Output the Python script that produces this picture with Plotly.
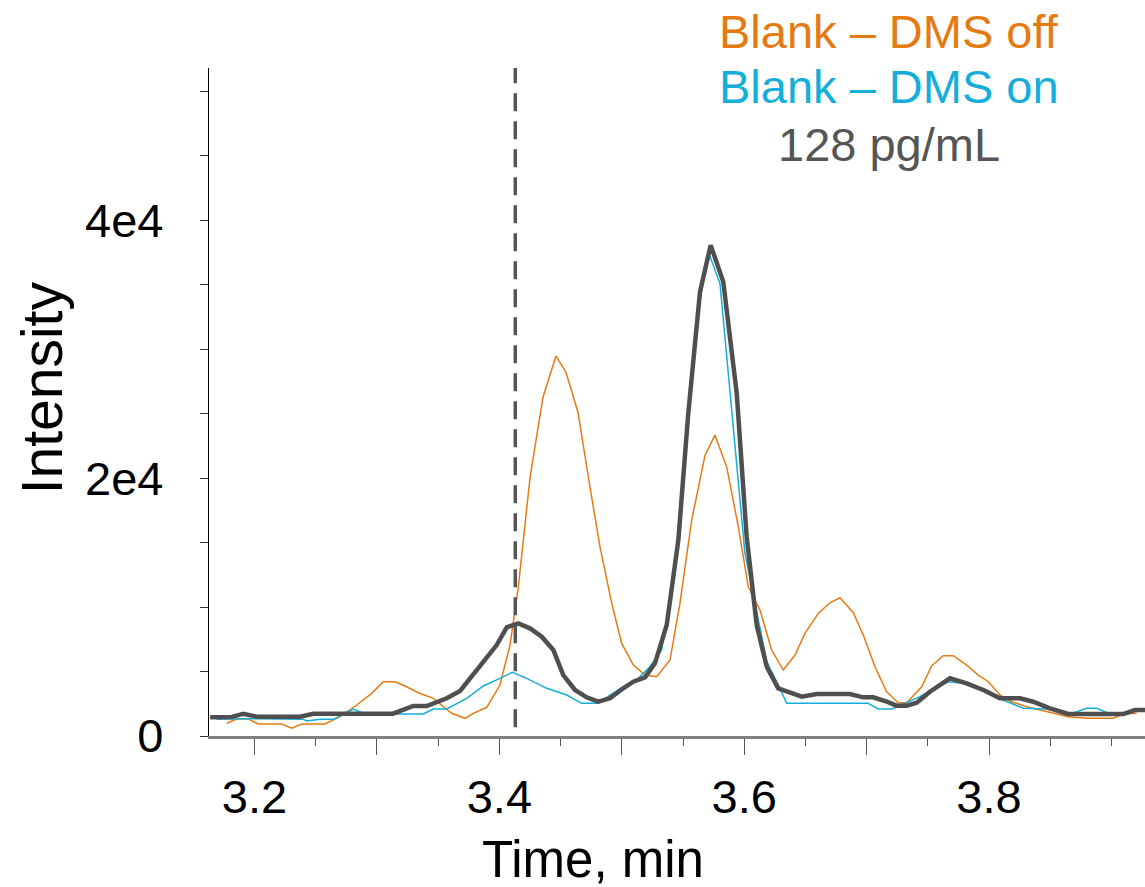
import plotly.graph_objects as go

# ---- data ----
t_128 = [3.1637, 3.1814, 3.1909, 3.2018, 3.2372, 3.2480, 3.3131, 3.3297, 3.3407, 3.3570,
         3.3679, 3.3787, 3.3897, 3.3978, 3.4060, 3.4155, 3.4250, 3.4346, 3.4441, 3.4522,
         3.4618, 3.4713, 3.4808, 3.4904, 3.5012, 3.5094, 3.5190, 3.5271, 3.5367, 3.5462,
         3.5543, 3.5639, 3.5726, 3.5829, 3.5939, 3.6020, 3.6102, 3.6184, 3.6278, 3.6470,
         3.6592, 3.6864, 3.6973, 3.7054, 3.7164, 3.7245, 3.7327, 3.7409, 3.7517, 3.7681,
         3.7817, 3.7953, 3.8089, 3.8253, 3.8361, 3.8497, 3.8647, 3.9096, 3.9192, 3.9274]
i_128 = [1450, 1473, 1729, 1496, 1496, 1729, 1729, 2326, 2326, 2923,
         3488, 4729, 6023, 7054, 8426, 8737, 8349, 7698, 6667, 4729,
         3566, 3000, 2659, 2922, 3698, 4209, 4550, 5636, 8605, 15194,
         25016, 34443, 38062, 35218, 26567, 15450, 8605, 5372, 3698, 3047,
         3256, 3256, 3000, 3000, 2659, 2349, 2349, 2581, 3434, 4473,
         4085, 3566, 2922, 2922, 2659, 2147, 1705, 1705, 2016, 2016]

t_on = [3.1691, 3.1936, 3.2399, 3.2426, 3.2535, 3.2644, 3.2807, 3.2903, 3.3134, 3.3379,
        3.3460, 3.3570, 3.3733, 3.3869, 3.4005, 3.4106, 3.4223, 3.4387, 3.4550, 3.4673,
        3.4808, 3.4904, 3.5012, 3.5135, 3.5230, 3.5326, 3.5408, 3.5489, 3.5598, 3.5707,
        3.5802, 3.5911, 3.6006, 3.6102, 3.6184, 3.6278, 3.6347, 3.7013, 3.7095, 3.7205,
        3.7327, 3.7436, 3.7544, 3.7667, 3.7844, 3.7981, 3.8116, 3.8279, 3.8470, 3.8661,
        3.8797, 3.8879, 3.8988, 3.9137]
i_on = [1294, 1341, 1294, 1163, 1294, 1294, 2093, 1705, 1705, 1705,
        2093, 2093, 2922, 3876, 4473, 4938, 4473, 3698, 3178, 2535,
        2535, 3178, 3822, 4473, 5372, 6667, 11574, 17519, 31473, 37543,
        35093, 23977, 14163, 9636, 5760, 3953, 2535, 2535, 2093, 2093,
        2581, 3047, 3698, 4209, 4031, 3566, 2791, 2147, 2093, 1682,
        2147, 2147, 1705, 1705]

t_off = [3.1773, 3.1855, 3.1949, 3.2031, 3.2222, 3.2304, 3.2386, 3.2576, 3.2698, 3.2835,
         3.2957, 3.3052, 3.3148, 3.3243, 3.3338, 3.3460, 3.3611, 3.3719, 3.3787, 3.3897,
         3.4005, 3.4087, 3.4155, 3.4250, 3.4356, 3.4462, 3.4544, 3.4642, 3.4740, 3.4822,
         3.4918, 3.4999, 3.5094, 3.5190, 3.5285, 3.5394, 3.5475, 3.5571, 3.5680, 3.5761,
         3.5857, 3.5952, 3.6033, 3.6129, 3.6224, 3.6319, 3.6415, 3.6496, 3.6605, 3.6700,
         3.6782, 3.6891, 3.6973, 3.7068, 3.7164, 3.7259, 3.7327, 3.7450, 3.7531, 3.7626,
         3.7708, 3.7817, 3.7912, 3.7994, 3.8089, 3.8185, 3.8307, 3.8471, 3.8647, 3.8797,
         3.9015, 3.9096, 3.9206]
i_off = [984, 1318, 1318, 930, 930, 597, 930, 930, 1496, 2403,
         3309, 4209, 4209, 3822, 3356, 2922, 1760, 1372, 1760, 2225,
         3953, 7054, 11574, 20000, 26273, 29450, 28210, 25110, 19322, 14672,
         10284, 7184, 5503, 4728, 4596, 5890, 10284, 16740, 21778, 23328,
         20871, 16221, 11571, 9765, 6665, 5115, 6278, 7959, 9509, 10331,
         10718, 9556, 7828, 5371, 3433, 2581, 2581, 3821, 5425, 6223,
         6223, 5503, 4728, 4209, 3178, 2659, 2271, 1883, 1496, 1372,
         1372, 1705, 1760]

marker_time = 3.413

x_major = [3.2, 3.3, 3.4, 3.5, 3.6, 3.7, 3.8]
x_major_text = ["3.2", "", "3.4", "", "3.6", "", "3.8"]
y_ticks = [0, 5000, 10000, 15000, 20000, 25000, 30000, 35000, 40000, 45000, 50000]
y_text = ["0", "", "", "", "2e4", "", "", "", "4e4", "", ""]

C_OFF = "#E67A12"
C_ON = "#15AEDB"
C_128 = "#4F4F4F"
FONT = "Liberation Sans, Arial, sans-serif"

fig = go.Figure()
fig.add_trace(go.Scatter(x=t_off, y=i_off, mode="lines", name="Blank – DMS off",
                         line=dict(color=C_OFF, width=1.5)))
fig.add_trace(go.Scatter(x=t_on, y=i_on, mode="lines", name="Blank – DMS on",
                         line=dict(color=C_ON, width=1.5)))
fig.add_trace(go.Scatter(x=t_128, y=i_128, mode="lines", name="128 pg/mL",
                         line=dict(color=C_128, width=4.5)))

fig.add_shape(type="line", xref="x", yref="paper", x0=marker_time, x1=marker_time,
              y0=0.013, y1=1.0, line=dict(color="#555555", width=3.5, dash="18px,10px"))

fig.update_layout(
    width=1145, height=887,
    margin=dict(l=209, r=0, t=68, b=151),
    paper_bgcolor="white", plot_bgcolor="white",
    showlegend=False,
    font=dict(family=FONT, color="black"),
    xaxis=dict(range=[3.1628, 3.9274], showgrid=False, zeroline=False,
               showline=True, linecolor="#808080", linewidth=2.5,
               tickmode="array", tickvals=x_major, ticktext=x_major_text,
               ticks="outside", ticklen=16, tickwidth=1, tickcolor="#555555",
               tickfont=dict(size=47, family=FONT, color="black"),
               ticklabelstandoff=2,
               minor=dict(dtick=0.05, tick0=3.15, ticks="outside", ticklen=7,
                          tickwidth=1, tickcolor="#555555")),
    yaxis=dict(range=[0, 51800], showgrid=False, zeroline=False,
               showline=True, linecolor="black", linewidth=1.2,
               tickmode="array", tickvals=y_ticks, ticktext=y_text,
               ticks="outside", ticklen=8, tickwidth=1, tickcolor="#333333",
               tickfont=dict(size=47, family=FONT, color="black"),
               ticklabelstandoff=27),
)

fig.add_annotation(text="Time, min", xref="paper", yref="paper", x=0.410, y=-0.185,
                   xanchor="center", yanchor="middle", showarrow=False,
                   font=dict(size=51, family=FONT, color="black"))
fig.add_annotation(text="Intensity", xref="paper", yref="paper", x=-0.178, y=0.521,
                   xanchor="center", yanchor="middle", textangle=-90, showarrow=False,
                   font=dict(size=57, family=FONT, color="black"))

for txt, col, yy in [("Blank – DMS off", C_OFF, 1.054),
                     ("Blank – DMS on", C_ON, 0.973),
                     ("128 pg/mL", "#555555", 0.886)]:
    fig.add_annotation(text=txt, xref="paper", yref="paper", x=0.7265, y=yy,
                       xanchor="center", yanchor="middle", showarrow=False,
                       font=dict(size=47, family=FONT, color=col))

fig.write_html("out.html")
